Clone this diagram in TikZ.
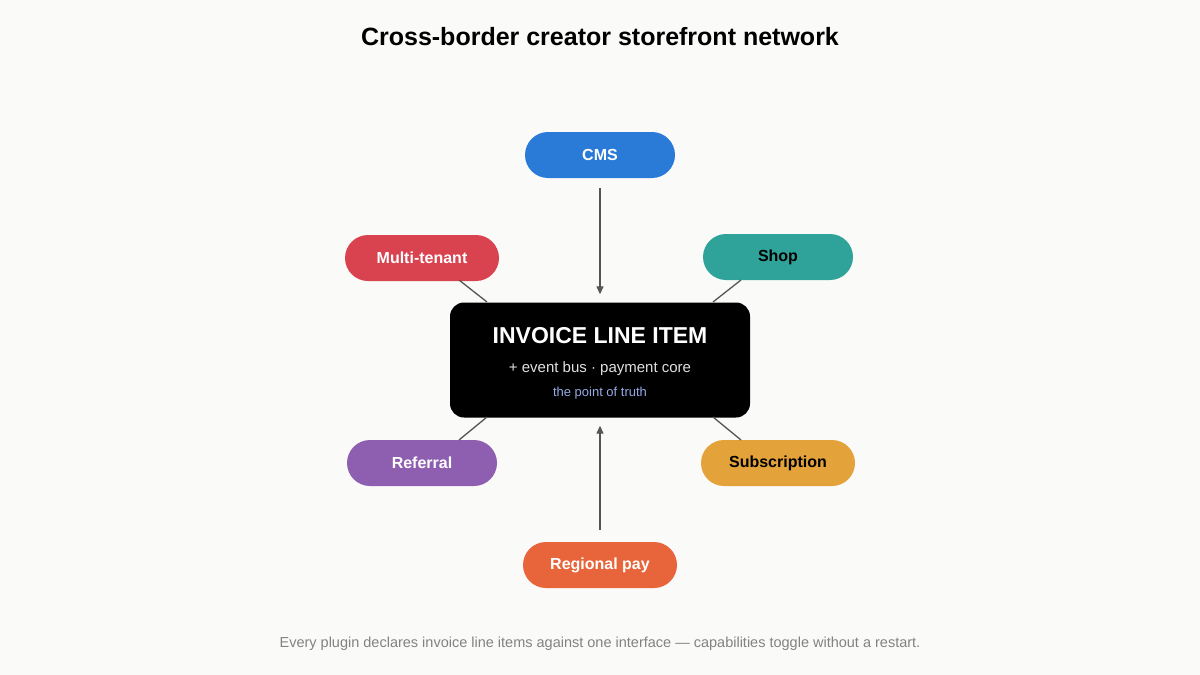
\documentclass[tikz,border=0pt]{standalone}
\usepackage{fontspec}
\setmainfont{Liberation Sans}
\usetikzlibrary{arrows.meta}
\definecolor{bg}{HTML}{FAFAF8}
\definecolor{cblue}{HTML}{2A7BD8}
\definecolor{cred}{HTML}{D9434F}
\definecolor{cteal}{HTML}{2FA39A}
\definecolor{cpurp}{HTML}{8E5FB0}
\definecolor{cgold}{HTML}{E3A23A}
\definecolor{corng}{HTML}{E8643A}
\definecolor{lnk}{HTML}{555555}
\begin{document}
\begin{tikzpicture}[x=1pt,y=-1pt,
 pill/.style={rounded corners=23pt,minimum height=46pt,minimum width=150pt,inner sep=0pt,font=\fontsize{16}{19}\selectfont\bfseries,text=white},
 link/.style={draw=lnk,line width=1.3pt},
 arr/.style={link,-{Triangle[length=8pt,width=7pt]}}]
\fill[bg] (0,0) rectangle (1200,675);
\useasboundingbox (0,0) rectangle (1200,675);
\node (title) at (600,37) {\fontsize{25}{30}\selectfont\bfseries Cross-border creator storefront network};
\node[fill=black,rounded corners=14pt,minimum width=300pt,minimum height=115pt] (hub) at (600,360) {};
\node[text=white] (h1) at (600,336) {\fontsize{23}{27}\selectfont\bfseries INVOICE LINE ITEM};
\node[text=white!88!black] (h2) at (600,369) {\fontsize{15}{18}\selectfont + event bus · payment core};
\node[text={rgb,255:red,150;green,170;blue,230}] (h3) at (600,393) {\fontsize{13}{16}\selectfont the point of truth};
\node[pill,fill=cblue] (cms) at (600,155) {CMS};
\node[pill,fill=cred,minimum width=154pt] (mt) at (422,258) {Multi-tenant};
\node[pill,fill=cteal,text=black] (shop) at (778,257) {Shop};
\node[pill,fill=cpurp] (ref) at (422,463) {Referral};
\node[pill,fill=cgold,text=black,minimum width=154pt] (sub) at (778,463) {Subscription};
\node[pill,fill=corng,minimum width=154pt] (reg) at (600,565) {Regional pay};
\draw[arr,shorten <=10pt,shorten >=8pt] (cms) -- (hub);
\draw[arr,shorten <=12pt,shorten >=8pt] (reg) -- (hub);
\coordinate (a1) at (459,280); \coordinate (a2) at (487,302);
\coordinate (b1) at (741,280); \coordinate (b2) at (713,302);
\coordinate (c1) at (459,440); \coordinate (c2) at (487,417);
\coordinate (d1) at (741,440); \coordinate (d2) at (713,417);
\draw[link] (a1) -- (a2); \draw[link] (b1) -- (b2);
\draw[link] (c1) -- (c2); \draw[link] (d1) -- (d2);
\node[text={rgb,255:red,130;green,130;blue,130}] (foot) at (600,644) {\fontsize{14.5}{17}\selectfont Every plugin declares invoice line items against one interface — capabilities toggle without a restart.};
\end{tikzpicture}
\end{document}
